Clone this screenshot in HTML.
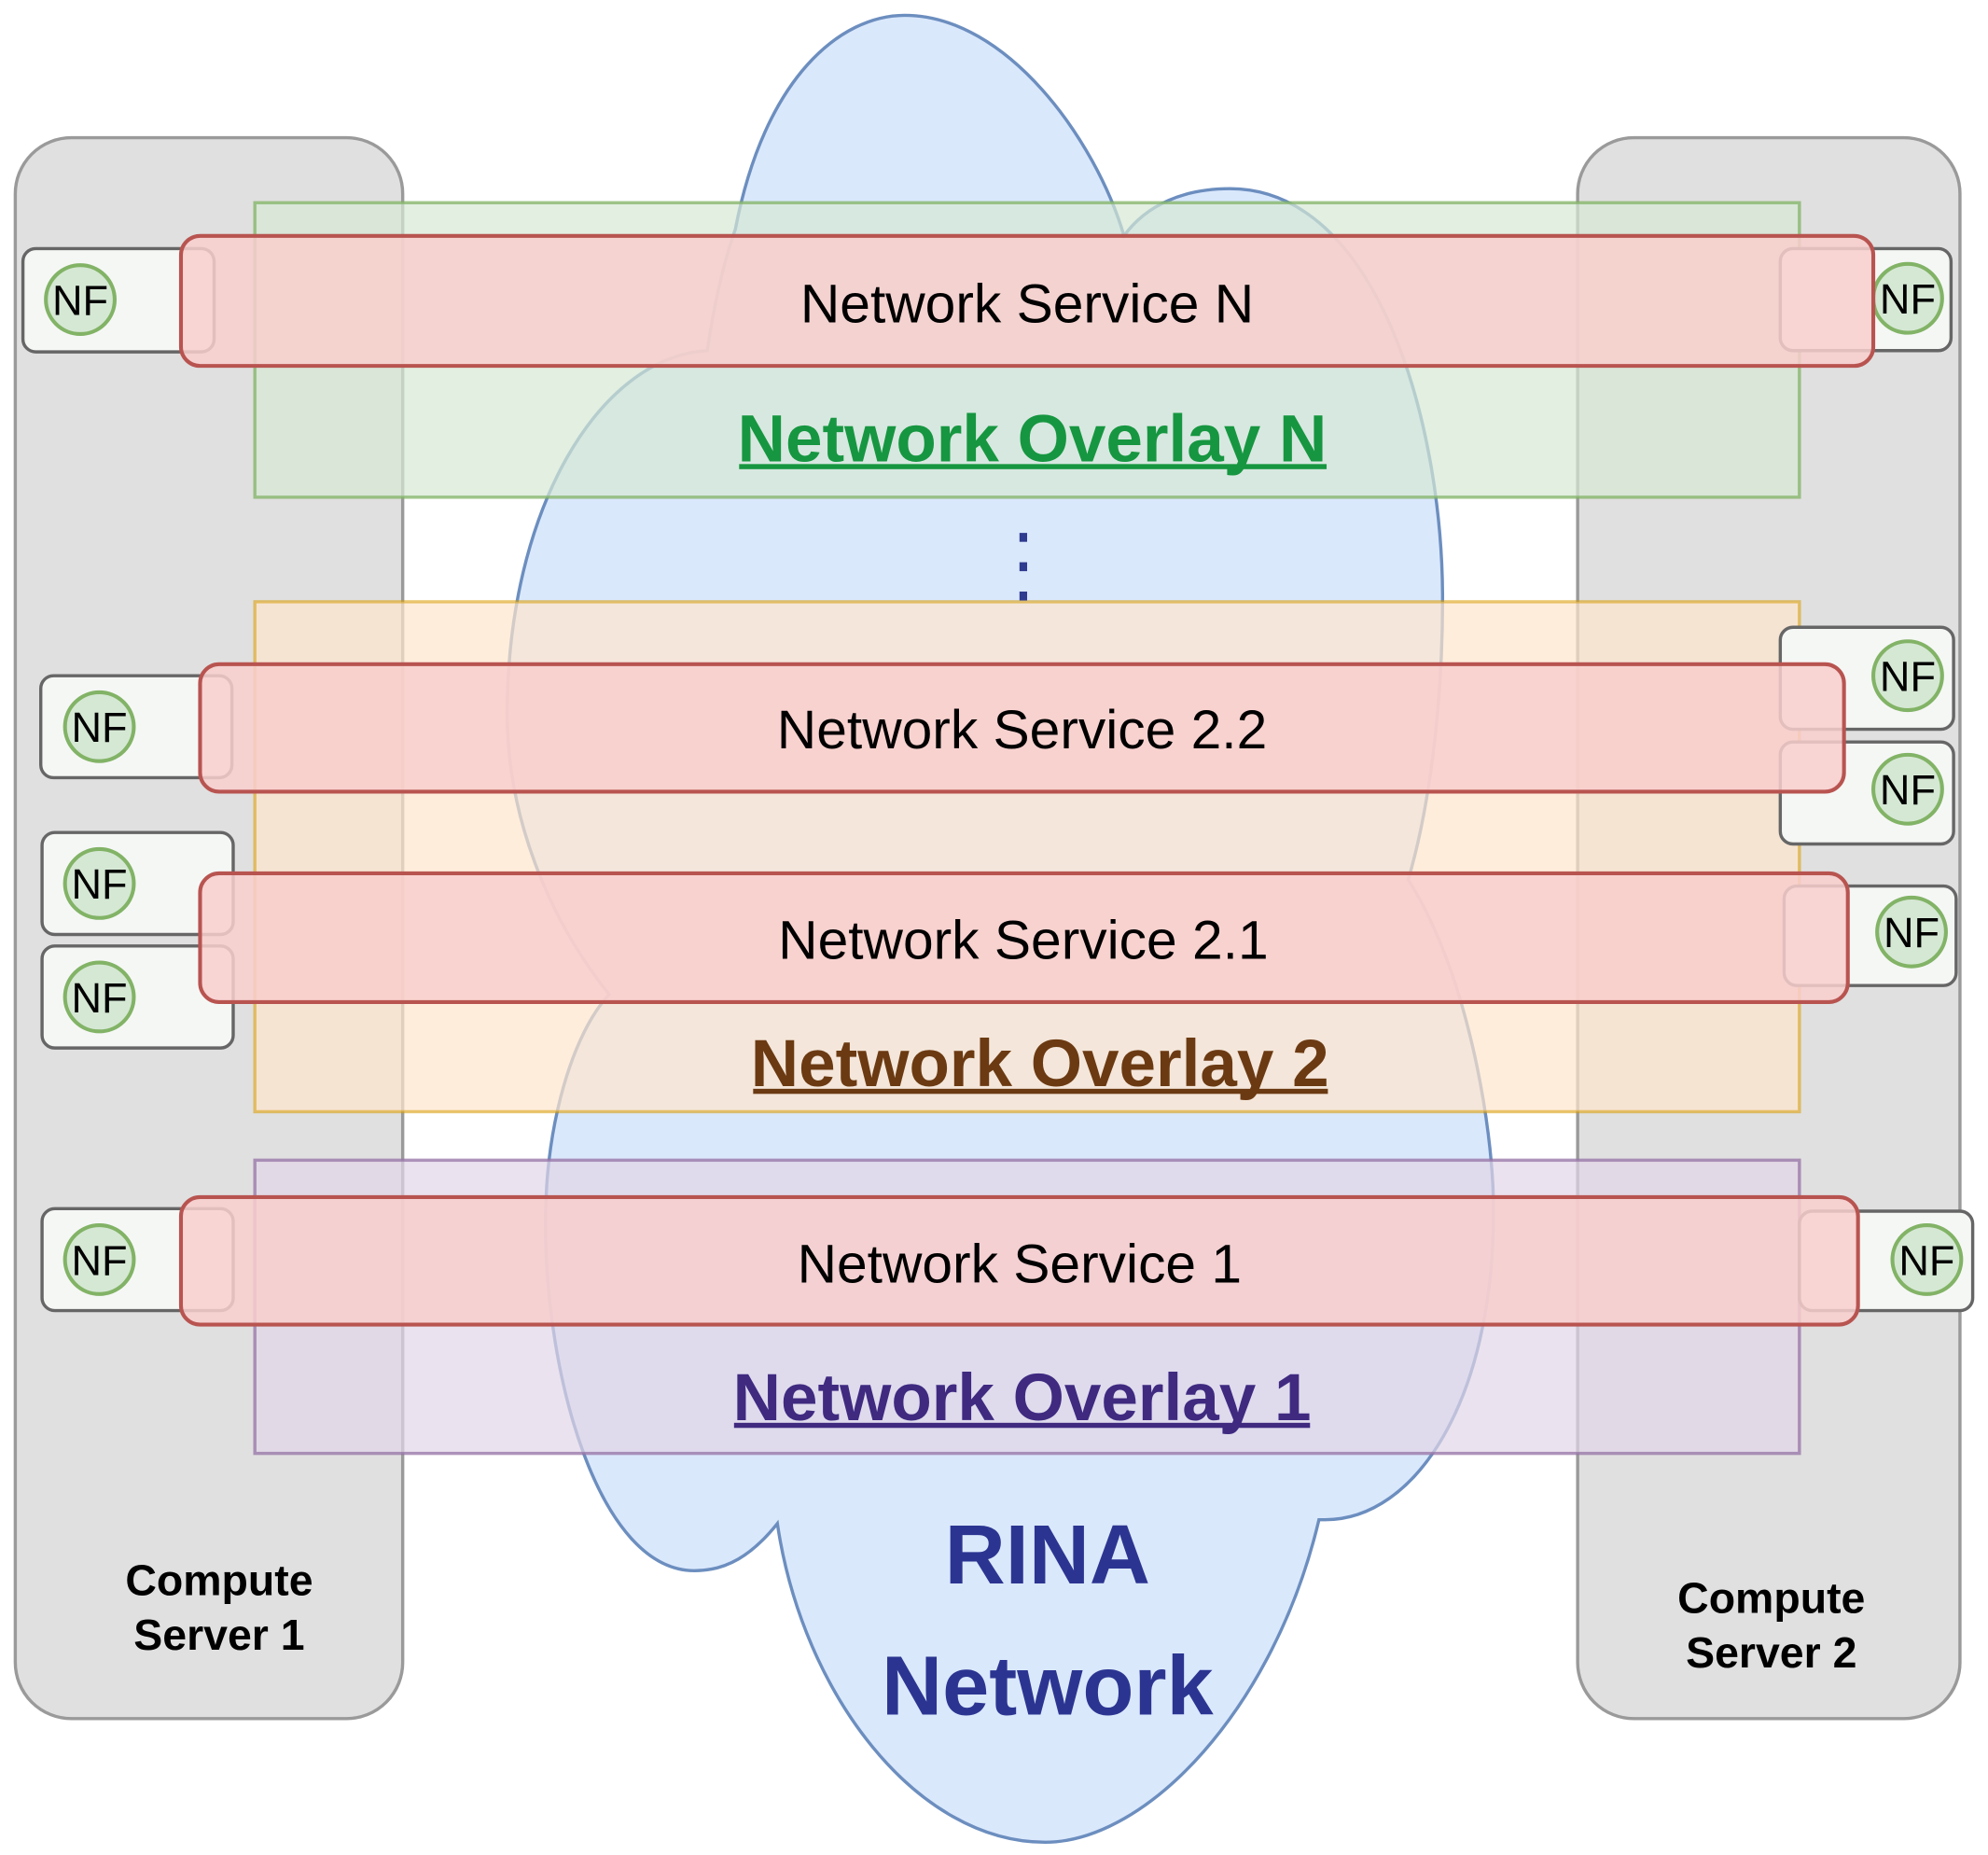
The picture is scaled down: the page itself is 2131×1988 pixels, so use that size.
<!DOCTYPE html>
<html><head><meta charset="utf-8"><style>html,body{margin:0;padding:0;background:#fff}svg{display:block}</style></head><body>
<svg width="2131" height="1988" viewBox="0 0 1560 1455" preserveAspectRatio="none" xmlns="http://www.w3.org/2000/svg" font-family="Liberation Sans, Arial, sans-serif">
<rect x="0" y="0" width="1560" height="1455" fill="#fff"/>
<rect x="12" y="108" width="304" height="1240" rx="44" fill="#e0e0e0" stroke="#9a9a9a" stroke-width="2.5"/>
<rect x="1238" y="108" width="300" height="1240" rx="44" fill="#e0e0e0" stroke="#9a9a9a" stroke-width="2.5"/>
<g font-weight="bold" font-size="34" text-anchor="middle" fill="#000">
<text x="172" y="1251">Compute</text><text x="172" y="1294">Server 1</text>
<text x="1390" y="1265">Compute</text><text x="1390" y="1308">Server 2</text>
</g>
<path d="M 577 180 C 600 60, 660 12, 710 12 C 790 12, 860 110, 882 185 C 900 160, 930 148, 965 148 C 1080 148, 1132 330, 1132 470 C 1132 560, 1120 640, 1105 690 C 1150 760, 1172 880, 1172 950 C 1172 1100, 1110 1192, 1040 1192 L 1035 1192 C 1000 1340, 900 1445, 820 1445 C 720 1445, 630 1330, 610 1195 C 590 1220, 570 1232, 545 1232 C 470 1232, 428 1080, 428 960 C 428 880, 450 810, 478 780 C 430 720, 398 640, 398 560 C 398 400, 470 280, 555 275 C 560 240, 568 205, 577 180 Z" fill="#dae8fc" stroke="#6c8ebf" stroke-width="2.5"/>
<g font-weight="bold" text-anchor="middle" fill="#2b3591" font-size="66">
<text x="822" y="1242">RINA</text><text x="822" y="1345">Network</text>
</g>
<rect x="200" y="159" width="1212" height="231" fill="#d5e8d4" fill-opacity="0.7" stroke="#82b366" stroke-opacity="0.75" stroke-width="2.5"/>
<rect x="200" y="472" width="1212" height="400" fill="#ffe6cc" fill-opacity="0.7" stroke="#d79b00" stroke-opacity="0.55" stroke-width="2.5"/>
<rect x="200" y="910" width="1212" height="230" fill="#e1d5e7" fill-opacity="0.7" stroke="#9673a6" stroke-opacity="0.75" stroke-width="2.5"/>
<g font-weight="bold" text-anchor="middle" font-size="52">
<text x="810" y="362" fill="#169640">Network Overlay N</text>
<text x="816" y="852" fill="#6b3a12">Network Overlay 2</text>
<text x="802" y="1114" fill="#3f2a80">Network Overlay 1</text>
</g>
<rect x="580" y="364" width="461" height="4" fill="#169640"/>
<rect x="591" y="854" width="451" height="4" fill="#6b3a12"/>
<rect x="576" y="1116" width="452" height="4" fill="#3f2a80"/>
<g fill="#2e3b8f"><rect x="800" y="418" width="6" height="7"/><rect x="800" y="441" width="6" height="7"/><rect x="800" y="464" width="6" height="7"/></g>
<g fill="#f5f7f5" stroke="#666" stroke-width="2.5">
<rect x="18" y="195" width="150" height="81" rx="10"/>
<rect x="32" y="530" width="150" height="80" rx="10"/>
<rect x="33" y="653" width="150" height="80" rx="10"/>
<rect x="33" y="742" width="150" height="80" rx="10"/>
<rect x="33" y="948" width="150" height="80" rx="10"/>
<rect x="1397" y="195" width="134" height="80" rx="10"/>
<rect x="1397" y="492" width="136" height="80" rx="10"/>
<rect x="1397" y="582" width="136" height="80" rx="10"/>
<rect x="1400" y="695" width="135" height="78" rx="10"/>
<rect x="1412" y="950" width="136" height="78" rx="10"/>
</g>
<g fill="#d5e8d4" stroke="#82b366" stroke-width="3">
<circle cx="63" cy="235" r="27"/><circle cx="78" cy="570" r="27"/><circle cx="78" cy="693" r="27"/><circle cx="78" cy="782" r="27"/><circle cx="78" cy="988" r="27"/>
<circle cx="1497" cy="234" r="27"/><circle cx="1497" cy="530" r="27"/><circle cx="1497" cy="619" r="27"/><circle cx="1500" cy="731" r="27"/><circle cx="1512" cy="988" r="27"/>
</g>
<g font-size="33" text-anchor="middle" fill="#000">
<text x="63" y="247">NF</text><text x="78" y="582">NF</text><text x="78" y="705">NF</text><text x="78" y="794">NF</text><text x="78" y="1000">NF</text>
<text x="1497" y="246">NF</text><text x="1497" y="542">NF</text><text x="1497" y="631">NF</text><text x="1500" y="743">NF</text><text x="1512" y="1000">NF</text>
</g>
<g fill="#f8cecc" fill-opacity="0.85" stroke="#b85450" stroke-width="3">
<rect x="142" y="185" width="1328" height="102" rx="15"/>
<rect x="157" y="521" width="1290" height="100" rx="15"/>
<rect x="157" y="685" width="1293" height="101" rx="15"/>
<rect x="142" y="939" width="1316" height="100" rx="15"/>
</g>
<g font-size="43" text-anchor="middle" fill="#000">
<text x="806" y="253">Network Service N</text>
<text x="802" y="587">Network Service 2.2</text>
<text x="803" y="752">Network Service 2.1</text>
<text x="800" y="1006">Network Service 1</text>
</g>
</svg>
</body></html>
